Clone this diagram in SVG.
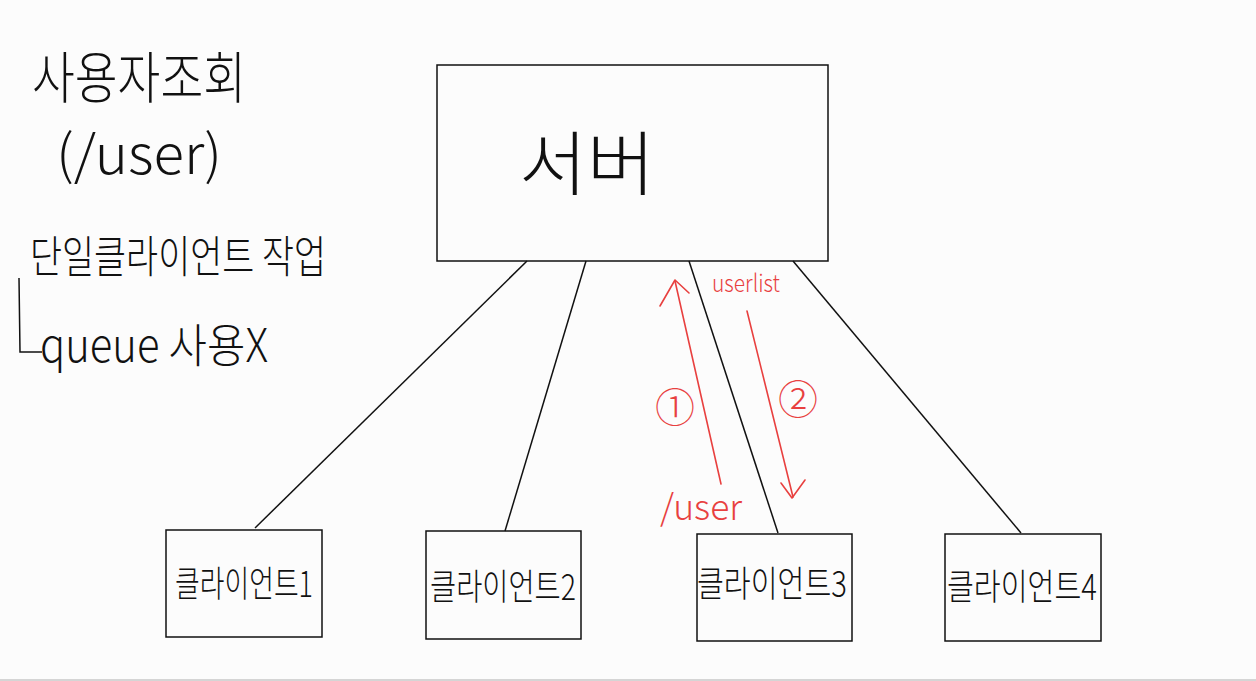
<svg xmlns="http://www.w3.org/2000/svg" width="1256" height="681" viewBox="0 0 1256 681">
<style>
.box{fill:none;stroke:#111;stroke-width:1.5}
.ln{fill:none;stroke:#111;stroke-width:1.5}
.red{fill:none;stroke:#e8403f;stroke-width:1.6;stroke-linecap:round;stroke-linejoin:round}
.t{font-family:"Noto Sans CJK KR","Noto Sans",sans-serif;fill:#111;font-weight:300}
.rt{font-family:"Noto Sans CJK KR","Noto Sans",sans-serif;fill:#e8403f;font-weight:300}
</style>
<rect x="0" y="0" width="1256" height="681" fill="#fcfcfc"/>
<line x1="0" y1="680" x2="1256" y2="680" stroke="#c8c8c8" stroke-width="1.5"/>
<g id="notes">
<text class="t" x="32" y="98" font-size="56" textLength="214" lengthAdjust="spacingAndGlyphs">사용자조회</text>
<text class="t" x="56" y="174" font-size="54" textLength="166" lengthAdjust="spacingAndGlyphs">(/user)</text>
<text class="t" x="30" y="273" font-size="44" textLength="296" lengthAdjust="spacingAndGlyphs">단일클라이언트 작업</text>
<path class="ln" d="M19 278 L20 352 L42 352"/>
<text class="t" x="40" y="362" font-size="46" textLength="228" lengthAdjust="spacingAndGlyphs">queue 사용X</text>
</g>
<g id="connectors">
<line class="ln" x1="527" y1="261" x2="255" y2="528"/>
<line class="ln" x1="586" y1="261" x2="505" y2="531"/>
<line class="ln" x1="689" y1="261" x2="778" y2="533"/>
<line class="ln" x1="793" y1="261" x2="1021" y2="533"/>
</g>
<g id="server">
<rect class="box" x="437" y="65" width="391" height="196"/>
<text class="t" x="587" y="190" font-size="70" text-anchor="middle" textLength="136" lengthAdjust="spacingAndGlyphs">서버</text>
</g>
<g id="client1">
<rect class="box" x="166" y="530" width="156" height="107"/>
<text class="t" x="244" y="597" font-size="36" text-anchor="middle" textLength="138" lengthAdjust="spacingAndGlyphs">클라이언트1</text>
</g>
<g id="client2">
<rect class="box" x="426" y="531" width="155" height="108"/>
<text class="t" x="503" y="600" font-size="36" text-anchor="middle" textLength="146" lengthAdjust="spacingAndGlyphs">클라이언트2</text>
</g>
<g id="client3">
<rect class="box" x="697" y="534" width="155" height="107"/>
<text class="t" x="772" y="597" font-size="36" text-anchor="middle" textLength="150" lengthAdjust="spacingAndGlyphs">클라이언트3</text>
</g>
<g id="client4">
<rect class="box" x="945" y="534" width="156" height="107"/>
<text class="t" x="1022" y="600" font-size="36" text-anchor="middle" textLength="150" lengthAdjust="spacingAndGlyphs">클라이언트4</text>
</g>
<g id="flow">
<path class="red" d="M721 484 L675 281"/>
<path class="red" d="M660 306 L675 280 L689 293"/>
<path class="red" d="M747 311 L793 497"/>
<path class="red" d="M781 483 L792 498 L805 480"/>
<text class="rt" x="712" y="292" font-size="24" textLength="68" lengthAdjust="spacingAndGlyphs">userlist</text>
<text class="rt" x="675" y="422" font-size="40" text-anchor="middle">①</text>
<text class="rt" x="798" y="414" font-size="40" text-anchor="middle">②</text>
<text class="rt" x="660" y="520" font-size="36" textLength="82" lengthAdjust="spacingAndGlyphs">/user</text>
</g>
</svg>
